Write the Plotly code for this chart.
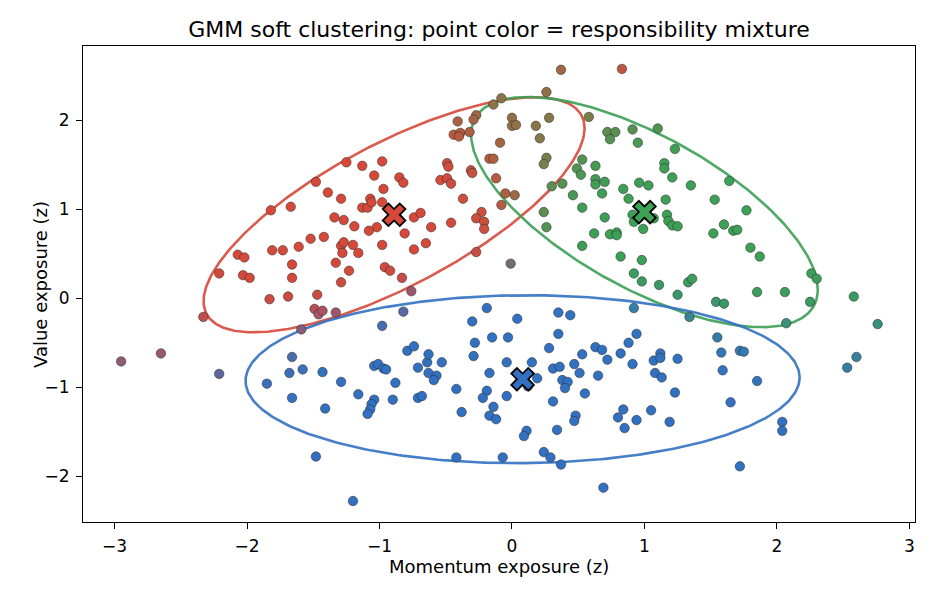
import numpy as np
import plotly.graph_objects as go

# ---------------- observations (data units, read from the reference) ----------------
# upper-left group (mostly red component)
x_upper_left = [-1.82, -1.67, -2.07, -2.02, -1.81, -1.73, -1.66, -2.21, -2.03, -1.98, -1.66,
                -0.41, -0.27, -0.29, -0.44, -0.39, -0.40, -0.32, -0.14, -0.09, -0.17, -0.14, -0.12, -0.08,
                -0.49, -0.48, -0.54, -0.49, -0.46, -0.31, -0.30, -0.37, -0.23, -0.27, -0.21, -0.21,
                -0.46, -0.61, -0.65, -0.74, -0.81, -0.74, -0.69, -1.02, -1.08, -1.19, -1.27, -1.34,
                -1.13, -1.09, -1.07, -1.06, -0.98, -0.97, -1.04, -0.98, -1.13, -1.25, -0.85, -0.82,
                -1.39, -1.29, -1.48, -1.52, -1.42, -1.61, -1.29, -1.27, -1.28, -1.20, -1.16, -0.98,
                -1.33, -1.23, -0.96, -0.92, -0.83, -1.29, -0.76, -0.27]
y_upper_left = [0.99, 1.03, 0.49, 0.46, 0.54, 0.54, 0.38, 0.28, 0.26, 0.23, 0.23,
                1.99, 2.06, 2.01, 1.84, 1.86, 1.82, 1.87, 2.18, 1.75, 1.57, 1.57, 1.35, 1.05,
                1.52, 1.48, 1.33, 1.35, 1.29, 1.44, 1.41, 1.12, 0.97, 0.90, 0.86, 0.78,
                0.85, 0.80, 0.62, 0.55, 0.73, 0.91, 0.96, 0.80, 0.76, 0.81, 0.88, 0.91,
                1.02, 1.02, 1.12, 1.08, 1.08, 1.23, 1.38, 1.54, 1.49, 1.53, 1.36, 1.30,
                1.19, 1.12, 1.31, 0.67, 0.69, 0.58, 0.59, 0.63, 0.51, 0.60, 0.51, 0.60,
                0.40, 0.31, 0.35, 0.31, 0.23, 0.18, 0.08, 0.52]

# upper-right group (mostly green component)
x_upper_right = [0.37, 0.83, 0.26, -0.08, 0.00, 0.00, 0.03, 0.18, 0.28, 0.58, 0.21, 0.26, 0.24, -0.05, 0.02,
                 0.53, 0.63, 0.49, 0.52, 0.63, 0.63, 0.70, 0.68, 0.38, 0.30, 0.46, 0.53, 0.24, 0.26,
                 0.72, 0.78, 0.74, 0.91, 1.10, 0.95, 1.23, 1.15, 1.15, 1.21, 1.35, 0.96, 1.03, 0.84, 0.88, 1.16,
                 0.91, 0.92, 1.07, 1.17, 1.18, 1.21, 1.25, 0.99, 0.70, 0.62, 0.74, 0.79, 0.79, 0.53, 0.82,
                 0.98, 0.92, 0.98, 1.11, 1.33, 1.36, -0.01,
                 1.64, 1.53, 1.77, 1.60, 1.52, 1.67, 1.70, 1.80, 1.87, 2.26, 2.30, 1.85, 2.06]
y_upper_right = [2.57, 2.58, 2.32, 2.25, 2.03, 1.94, 1.95, 1.94, 2.03, 2.04, 1.80, 1.58, 1.51, 1.18, 1.16,
                 1.56, 1.49, 1.46, 1.39, 1.34, 1.28, 1.31, 1.18, 1.29, 1.26, 1.16, 1.02, 0.97, 0.80,
                 1.87, 1.87, 1.79, 1.90, 1.91, 1.75, 1.68, 1.52, 1.46, 1.36, 1.27, 1.30, 1.27, 1.23, 1.12, 1.11,
                 0.94, 0.86, 0.90, 0.94, 0.87, 0.82, 0.81, 0.78, 0.91, 0.73, 0.72, 0.74, 0.71, 0.59, 0.47,
                 0.43, 0.28, 0.19, 0.15, 0.18, 0.22, 0.39,
                 1.32, 1.11, 0.99, 0.83, 0.73, 0.76, 0.77, 0.57, 0.47, 0.28, 0.22, 0.07, 0.07]

# lower group (mostly blue component)
x_lower = [-1.83, -1.69, -2.33, -2.95, -2.65, -2.21, -1.85, -1.66, -1.68, -1.66,
           -1.47, -1.49, -1.46, -1.43, -1.33, -1.59, -0.82, -0.98,
           -0.19, -0.30, -0.15, -0.28, -0.29, -0.17, -0.19, -0.22, -0.14, -0.17, -0.12, -0.38, -0.42,
           -1.58, -1.43, -1.29, -1.41, -1.16, -1.04, -1.01, -0.97, -0.95, -0.79, -0.74, -0.88, -0.90,
           -1.04, -1.06, -1.07, -1.09, -0.71, -0.64, -0.63, -0.63, -0.57, -0.59, -0.53, -0.71, -0.68,
           -1.48, -0.42, -1.20, -0.07,
           0.92, 1.25, 1.34, 0.04, 0.35, 0.44, -0.03, 0.35, 0.94, 0.88, 0.28, 0.63, 0.68, 0.53, 0.82, 0.72,
           -0.04, 0.15, 0.31, 0.36, 0.47, 0.91, 1.07, 1.12, 1.12, 1.25, 0.19, 0.12, 0.38, 0.42, 0.40,
           0.51, 0.65, 1.08, 1.13, 0.55, -0.04, 0.31, 1.23, 0.84, 0.80, 0.48, 0.47, 0.94, 0.85, 1.05, 1.19,
           0.34, 0.11, 0.09, 0.24, 0.29, 0.37, 0.69,
           1.54, 1.60, 2.25, 2.07, 2.58, 2.76, 1.55, 1.58, 1.72, 1.75, 2.60, 2.53, 1.59, 1.85, 1.65, 2.04, 2.04, 1.72]
y_lower = [-0.01, 0.02, -0.21, -0.71, -0.62, -0.85, -0.96, -0.66, -0.84, -1.12,
           0.04, -0.12, -0.18, -0.14, -0.16, -0.35, -0.15, -0.31,
           -0.11, -0.26, -0.44, -0.50, -0.65, -0.84, -1.04, -1.12, -1.22, -1.32, -1.36, -1.28, -1.02,
           -0.80, -0.83, -0.94, -1.24, -1.08, -0.76, -0.74, -0.79, -0.80, -0.59, -0.54, -0.95, -1.14,
           -1.14, -1.19, -1.25, -1.30, -0.78, -0.72, -0.63, -0.84, -0.87, -0.92, -0.72, -1.12, -1.10,
           -1.78, -1.79, -2.28, -1.79,
           -0.11, 0.04, -0.21, -0.23, -0.16, -0.19, -0.44, -0.40, -0.40, -0.50, -0.56, -0.55, -0.58, -0.63, -0.62, -0.69,
           -0.72, -0.72, -0.79, -0.77, -0.74, -0.74, -0.70, -0.62, -0.67, -0.68, -0.90, -0.99, -0.92, -0.94, -1.01,
           -0.84, -0.87, -0.84, -0.89, -1.07, -1.10, -1.16, -1.06, -1.25, -1.34, -1.32, -1.38, -1.37, -1.46, -1.26, -1.39,
           -1.48, -1.49, -1.55, -1.73, -1.79, -1.87, -2.13,
           -0.04, -0.06, -0.04, -0.28, 0.02, -0.29, -0.44, -0.61, -0.59, -0.60, -0.66, -0.78, -0.81, -0.93, -1.17, -1.39, -1.49, -1.89]

# ---------------- fitted mixture ----------------
comp_mean_x = [-0.89, 1.00, 0.08]
comp_mean_y = [0.94, 0.97, -0.91]
comp_var_x = [0.517, 0.428, 1.093]
comp_cov_xy = [0.350, -0.285, 0.010]
comp_var_y = [0.437, 0.419, 0.223]
comp_weight = [0.32, 0.28, 0.40]
comp_rgb = [(214, 73, 58), (60, 160, 85), (50, 113, 193)]
N_STD = 2.0

TITLE = "GMM soft clustering: point color = responsibility mixture"
XLABEL = "Momentum exposure (z)"
YLABEL = "Value exposure (z)"
x_ticks = [-3, -2, -1, 0, 1, 2, 3]
y_ticks = [-2, -1, 0, 1, 2]

# ---------------- computations ----------------
X = np.array(x_upper_left + x_upper_right + x_lower, dtype=float)
Y = np.array(y_upper_left + y_upper_right + y_lower, dtype=float)
D = np.stack([X, Y], axis=1)

covs = [np.array([[vx, cxy], [cxy, vy]]) for vx, cxy, vy in zip(comp_var_x, comp_cov_xy, comp_var_y)]
dens = []
for k in range(3):
    mu = np.array([comp_mean_x[k], comp_mean_y[k]])
    inv = np.linalg.inv(covs[k])
    d = D - mu
    m2 = np.einsum("ni,ij,nj->n", d, inv, d)
    dens.append(comp_weight[k] * np.exp(-0.5 * m2) / (2 * np.pi * np.sqrt(np.linalg.det(covs[k]))))
dens = np.array(dens)
resp = dens / dens.sum(axis=0, keepdims=True)
rgb = resp.T @ np.array(comp_rgb, dtype=float)
point_colors = ["rgb(%d,%d,%d)" % tuple(np.clip(np.round(c), 0, 255)) for c in rgb]

fig = go.Figure()

t = np.linspace(0, 2 * np.pi, 361)
circ = np.stack([np.cos(t), np.sin(t)])
for k in range(3):
    vals, vecs = np.linalg.eigh(covs[k])
    pts = vecs @ (np.sqrt(vals)[:, None] * circ) * N_STD
    r, g, b = comp_rgb[k]
    fig.add_trace(go.Scatter(
        x=comp_mean_x[k] + pts[0], y=comp_mean_y[k] + pts[1], mode="lines",
        line=dict(color="rgba(%d,%d,%d,0.9)" % (r, g, b), width=2.6),
        hoverinfo="skip", showlegend=False))

fig.add_trace(go.Scatter(
    x=X, y=Y, mode="markers",
    marker=dict(size=9.5, color=point_colors, line=dict(color="rgba(40,40,40,0.85)", width=0.6)),
    showlegend=False))

fig.add_trace(go.Scatter(
    x=comp_mean_x, y=comp_mean_y, mode="markers",
    marker=dict(symbol="x", size=20, color=["rgb(%d,%d,%d)" % c for c in comp_rgb],
                line=dict(color="black", width=1.8)),
    showlegend=False))

fig.update_layout(
    width=936, height=598,
    margin=dict(l=83, r=21, t=46, b=76),
    paper_bgcolor="white", plot_bgcolor="white",
    showlegend=False,
    font=dict(family="DejaVu Sans", color="black", size=17),
    title=dict(text=TITLE, x=0.5, xref="paper", xanchor="center",
               y=1 - 29 / 598, yref="container", yanchor="middle",
               font=dict(size=22, family="DejaVu Sans", color="black")),
    annotations=[
        dict(text=XLABEL, xref="paper", yref="paper", x=0.5, y=-0.0945,
             xanchor="center", yanchor="middle", showarrow=False, font=dict(size=18)),
        dict(text=YLABEL, xref="paper", yref="paper", x=-0.0517, y=0.5, textangle=-90,
             xanchor="center", yanchor="middle", showarrow=False, font=dict(size=18)),
    ],
)
axis_common = dict(ticks="outside", ticklen=6, tickwidth=1.2, tickcolor="black",
                   showline=True, linecolor="black", linewidth=1.2, mirror=True,
                   showgrid=False, zeroline=False, tickfont=dict(size=17))
fig.update_xaxes(range=[-3.238, 3.042], tickvals=x_ticks, ticklabelstandoff=2, **axis_common)
fig.update_yaxes(range=[-2.516, 2.838], tickvals=y_ticks, ticklabelstandoff=3, **axis_common)

fig.write_html("out.html")
